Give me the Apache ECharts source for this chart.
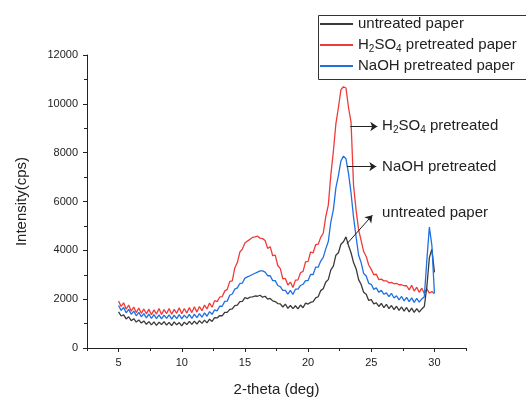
<!DOCTYPE html>
<html>
<head>
<meta charset="utf-8">
<script src="https://cdn.jsdelivr.net/npm/echarts@6.0.0/dist/echarts.min.js"></script>
<style>
  html, body { margin: 0; padding: 0; background: #fff; }
  #chart { width: 526px; height: 402px; }
</style>
</head>
<body>
<div id="chart"></div>
<script>
// 2-theta (deg), one row = 2 degrees
var twoTheta = [
  5.0, 5.2, 5.4, 5.6, 5.8, 6.0, 6.2, 6.4, 6.6, 6.8,
  7.0, 7.2, 7.4, 7.6, 7.8, 8.0, 8.2, 8.4, 8.6, 8.8,
  9.0, 9.2, 9.4, 9.6, 9.8, 10.0, 10.2, 10.4, 10.6, 10.8,
  11.0, 11.2, 11.4, 11.6, 11.8, 12.0, 12.2, 12.4, 12.6, 12.8,
  13.0, 13.2, 13.4, 13.6, 13.8, 14.0, 14.2, 14.4, 14.6, 14.8,
  15.0, 15.2, 15.4, 15.6, 15.8, 16.0, 16.2, 16.4, 16.6, 16.8,
  17.0, 17.2, 17.4, 17.6, 17.8, 18.0, 18.2, 18.4, 18.6, 18.8,
  19.0, 19.2, 19.4, 19.6, 19.8, 20.0, 20.2, 20.4, 20.6, 20.8,
  21.0, 21.2, 21.4, 21.6, 21.8, 22.0, 22.2, 22.4, 22.6, 22.8,
  23.0, 23.2, 23.4, 23.6, 23.8, 24.0, 24.2, 24.4, 24.6, 24.8,
  25.0, 25.2, 25.4, 25.6, 25.8, 26.0, 26.2, 26.4, 26.6, 26.8,
  27.0, 27.2, 27.4, 27.6, 27.8, 28.0, 28.2, 28.4, 28.6, 28.8,
  29.0, 29.2, 29.4, 29.6, 29.8, 30.0
];

// intensity (cps)
var untreated = [
  1480, 1310, 1360, 1190, 1280, 1120, 1200, 1060, 1150, 1020,
  1110, 970, 1080, 950, 1070, 930, 1060, 960, 1080, 940,
  1050, 920, 1070, 950, 1040, 910, 1060, 960, 1090, 970,
  1100, 980, 1120, 1010, 1140, 1030, 1180, 1090, 1240, 1230,
  1330, 1320, 1460, 1460, 1580, 1600, 1740, 1760, 1900, 1910,
  2060, 2020, 2080, 2090, 2130, 2120, 2160, 2080, 2120, 2000,
  2030, 1930, 1900, 1820, 1810, 1680, 1800, 1620, 1740, 1610,
  1730, 1600, 1760, 1650, 1840, 1800, 1870, 1900, 2050, 2100,
  2350, 2430, 2700, 2800, 3200, 3350, 3800, 3900, 4250, 4350,
  4550, 4200, 3900, 3500, 3250, 2800, 2600, 2280, 2200, 1950,
  1980, 1810, 1850, 1700, 1830, 1650, 1790, 1610, 1740, 1570,
  1710, 1540, 1680, 1510, 1660, 1480, 1630, 1460, 1610, 1470,
  1600, 1700, 2500, 3700, 4050, 3100
];
var h2so4 = [
  1920, 1700, 1850, 1590, 1760, 1510, 1680, 1450, 1640, 1420,
  1600, 1400, 1590, 1360, 1560, 1390, 1620, 1370, 1570, 1410,
  1620, 1380, 1580, 1420, 1650, 1400, 1620, 1430, 1660, 1450,
  1690, 1470, 1700, 1530, 1760, 1600, 1840, 1670, 1940, 1900,
  2080, 2100, 2330, 2400, 2730, 2750, 3280, 3500, 3930, 4050,
  4300, 4380, 4450, 4530, 4550, 4580, 4500, 4480, 4400, 4080,
  4150, 3780, 3800, 3380, 3250, 2830, 2850, 2580, 2700, 2480,
  2780, 2790, 3080, 3140, 3530, 3550, 3930, 3900, 4230, 4250,
  4530, 4700, 5380, 5850, 7080, 8050, 9180, 9850, 10580, 10700,
  10650, 9850, 9250, 6650, 5650, 4850, 4400, 3950, 3750, 3400,
  3220, 3000, 3020, 2800, 2820, 2750, 2750, 2670, 2690, 2630,
  2650, 2590, 2590, 2550, 2550, 2380, 2570, 2330, 2490, 2280,
  2450, 2230, 2420, 2250, 2310, 2220
];
var naoh = [
  1740, 1540, 1660, 1440, 1580, 1380, 1510, 1320, 1460, 1280,
  1410, 1230, 1390, 1210, 1370, 1200, 1360, 1190, 1350, 1210,
  1360, 1180, 1350, 1200, 1370, 1190, 1350, 1220, 1380, 1210,
  1390, 1240, 1410, 1260, 1440, 1300, 1490, 1380, 1560, 1520,
  1710, 1710, 1910, 1920, 2160, 2210, 2410, 2460, 2640, 2660,
  2860, 2910, 2960, 3010, 3060, 3110, 3160, 3160, 3110, 2960,
  2960, 2760, 2760, 2560, 2510, 2360, 2360, 2210, 2360, 2190,
  2410, 2410, 2560, 2610, 2760, 2760, 3010, 3010, 3310, 3310,
  3560, 3710, 4060, 4360, 5160, 5660, 6560, 7060, 7660, 7860,
  7750, 7150, 6350, 5350, 4550, 3800, 3500, 3050, 2950, 2650,
  2610, 2400, 2460, 2280, 2360, 2200, 2260, 2100, 2240, 2050,
  2140, 1970, 2110, 1930, 2070, 1900, 2050, 1870, 2030, 1880,
  2010, 2100, 3600, 4950, 4200, 2250
];

var xLabelTicks = [5, 10, 15, 20, 25, 30];
var xMinorTicks = [2.5, 7.5, 12.5, 17.5, 22.5, 27.5, 32.5];

// annotations: arrow start, arrow end, text anchor (data coords)
var arrowFrom = [[23.34, 9070], [23.08, 7430], [23.08, 4270]];
var arrowTo = [[25.48, 9070], [25.40, 7430], [25.09, 5440]];
var noteAt = [[25.86, 9080], [25.86, 7430], [25.86, 5530]];
var noteText = ['{t|H}{s|2}{t|SO}{s|4}{t| pretreated}', '{t|NaOH pretreated}', '{t|untreated paper}'];

var seriesNames = ['untreated paper', 'H2SO4 pretreated paper', 'NaOH pretreated paper'];
var seriesColors = ['#3a3a3a', '#f03a3a', '#2070e0'];

var font = 'Liberation Sans, Arial, sans-serif';
var richText = {
  t: { fontSize: 15, fontFamily: font, color: '#222' },
  s: { fontSize: 10, fontFamily: font, color: '#222', padding: [8, 0, 0, 0] }
};

function pairs(ys) {
  return twoTheta.map(function (x, i) { return [x, ys[i]]; });
}

var chart = echarts.init(document.getElementById('chart'), null, { renderer: 'canvas' });

var allData = [untreated, h2so4, naoh];
var series = allData.map(function (ys, k) {
  return {
    name: seriesNames[k],
    type: 'line',
    xAxisIndex: 0,
    data: pairs(ys),
    symbol: 'none',
    sampling: null,
    lineStyle: { width: 1.3, color: seriesColors[k] },
    itemStyle: { color: seriesColors[k] },
    z: [3, 2, 4][k]
  };
});

// arrows + texts ride on the untreated series
series[0].markLine = {
  silent: true,
  symbol: ['none', 'arrow'],
  symbolSize: 7,
  label: { show: false },
  lineStyle: { color: '#222', width: 1, type: 'solid' },
  itemStyle: { color: '#222' },
  emphasis: { disabled: true },
  data: arrowFrom.map(function (p, i) {
    return [{ coord: p }, { coord: arrowTo[i] }];
  })
};
series[0].markPoint = {
  silent: true,
  symbol: 'circle',
  symbolSize: 0,
  itemStyle: { color: 'transparent' },
  label: {
    show: true,
    position: 'right',
    distance: 0,
    formatter: function (p) { return noteText[p.dataIndex]; },
    rich: richText
  },
  data: noteAt.map(function (p) { return { coord: p }; })
};

var option = {
  animation: false,
  backgroundColor: '#fff',
  textStyle: { fontFamily: font },
  grid: { left: 87, right: 60, top: 55, bottom: 47 },
  // legend frame runs off the right edge like the source figure
  graphic: [{
    type: 'rect',
    left: 316,
    top: 13,
    shape: { width: 260, height: 64 },
    style: { fill: 'none', stroke: '#333', lineWidth: 1 },
    silent: true
  }],
  legend: {
    orient: 'vertical',
    left: 317,
    top: 13,
    padding: [2, 10, 2, 3],
    itemGap: 3,
    itemWidth: 33,
    itemHeight: 2,
    icon: 'rect',
    selectedMode: false,
    textStyle: { fontSize: 15, fontFamily: font, color: '#222', lineHeight: 18, rich: richText },
    formatter: function (name) {
      if (name === 'H2SO4 pretreated paper') return '{t|H}{s|2}{t|SO}{s|4}{t| pretreated paper}';
      return name;
    },
    data: seriesNames
  },
  xAxis: [{
    type: 'value',
    position: 'bottom',
    min: 2.5,
    max: 32.5,
    interval: 2.5,
    name: '2-theta (deg)',
    nameLocation: 'middle',
    nameGap: 34,
    nameTextStyle: { fontSize: 15, color: '#222', fontFamily: font },
    axisLine: { show: true, onZero: false, lineStyle: { color: '#222', width: 1 } },
    axisTick: { show: true, length: 4, customValues: xLabelTicks, lineStyle: { color: '#222' } },
    axisLabel: { fontSize: 11, color: '#222', margin: 9, customValues: xLabelTicks },
    splitLine: { show: false }
  }, {
    type: 'value',
    position: 'bottom',
    min: 2.5,
    max: 32.5,
    interval: 2.5,
    axisLine: { show: false, onZero: false },
    axisTick: { show: true, length: 3, customValues: xMinorTicks, lineStyle: { color: '#222' } },
    axisLabel: { show: false },
    splitLine: { show: false }
  }],
  yAxis: {
    type: 'value',
    min: 0,
    max: 12000,
    interval: 2000,
    name: 'Intensity(cps)',
    nameLocation: 'middle',
    nameGap: 58,
    nameTextStyle: { fontSize: 15, color: '#222', fontFamily: font },
    axisLine: { show: true, lineStyle: { color: '#222', width: 1 } },
    axisTick: { show: true, length: 4, lineStyle: { color: '#222' } },
    minorTick: { show: true, splitNumber: 2, length: 3, lineStyle: { color: '#222' } },
    axisLabel: {
      fontSize: 11, color: '#222', margin: 9,
      formatter: function (v) { return String(v); }
    },
    splitLine: { show: false }
  },
  series: series
};

chart.setOption(option);
</script>
</body>
</html>
